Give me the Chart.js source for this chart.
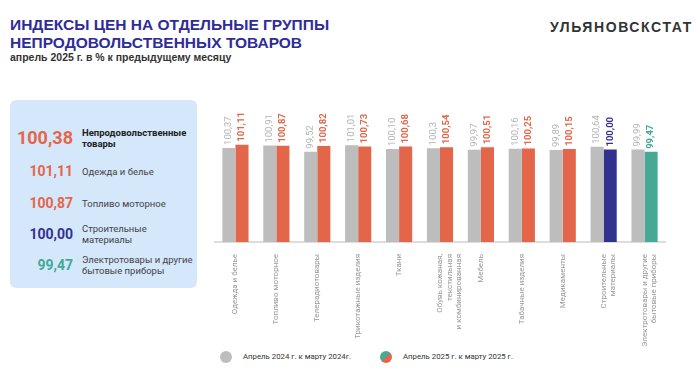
<!DOCTYPE html>
<html><head><meta charset="utf-8">
<script src="https://cdn.jsdelivr.net/npm/chart.js@4"></script>
<style>
html,body{margin:0;padding:0;background:#fff;font-family:Roboto,"Liberation Sans",Arial,sans-serif;}
#wrap{position:relative;width:700px;height:379px;overflow:hidden;}
.t1{position:absolute;left:10px;top:16px;font:bold 15.5px "Liberation Sans",Arial,sans-serif;color:#2E2C9A;line-height:18px;}
.sub{position:absolute;left:10px;top:51px;font:bold 10.5px "Liberation Sans",Arial,sans-serif;color:#333;}
.brand{position:absolute;left:550px;top:19px;font:bold 14px "Liberation Sans",Arial,sans-serif;color:#333;letter-spacing:1.6px;}
.panel{position:absolute;left:10px;top:100px;width:187px;height:188px;background:#D4E7FB;border-radius:6px;}
.num{position:absolute;right:124px;font-weight:bold;text-align:right;white-space:nowrap;}
.lbl{position:absolute;left:72px;font-size:9.5px;color:#444;line-height:11px;white-space:nowrap;}
#cw{position:absolute;left:205px;top:86px;width:475px;height:265px;}
.leg{position:absolute;top:352px;font-size:7.8px;color:#333;}
.dot{position:absolute;width:12px;height:12px;border-radius:50%;}
</style></head><body>
<div id="wrap">
<div class="t1">ИНДЕКСЫ ЦЕН НА ОТДЕЛЬНЫЕ ГРУППЫ<br>НЕПРОДОВОЛЬСТВЕННЫХ ТОВАРОВ</div>
<div class="sub">апрель 2025 г. в % к предыдущему месяцу</div>
<div class="brand">УЛЬЯНОВСКСТАТ</div>
<div class="panel" id="panel"></div>
<div id="cw"><canvas id="c" width="475" height="265"></canvas></div>
<div class="dot" style="left:220px;top:351px;background:#BDBDBD"></div>
<div class="leg" style="left:243px">Апрель 2024 г. к марту 2024г.</div>
<div class="dot" style="left:380px;top:351px;background:linear-gradient(135deg,#45A996 50%,#E4664A 50%)"></div>
<div class="leg" style="left:403px">Апрель 2025 г. к марту 2025 г.</div>
</div>
<script>
const categories = [
  "Одежда и белье","Топливо моторное","Телерадиотовары","Трикотажные изделия","Ткани",
  ["Обувь кожаная,","текстильная","и комбинированная"],"Мебель","Табачные изделия","Медикаменты",
  ["Строительные","материалы"],["Электротовары и другие","бытовые приборы"]
];
const values2024 = [100.37,100.91,99.52,101.01,100.10,100.3,99.97,100.16,99.89,100.64,99.99];
const labels2024 = ["100,37","100,91","99,52","101,01","100,10","100,3","99,97","100,16","99,89","100,64","99,99"];
const values2025 = [101.11,100.87,100.82,100.73,100.68,100.54,100.51,100.25,100.15,100.00,99.47];
const labels2025 = ["101,11","100,87","100,82","100,73","100,68","100,54","100,51","100,25","100,15","100,00","99,47"];
const colors2025 = ["#E4664A","#E4664A","#E4664A","#E4664A","#E4664A","#E4664A","#E4664A","#E4664A","#E4664A","#33318F","#45A996"];

const panelValues = ["100,38","101,11","100,87","100,00","99,47"];
const panelLabels = [["Непродовольственные","товары"],["Одежда и белье"],["Топливо моторное"],["Строительные","материалы"],["Электротовары и другие","бытовые приборы"]];
const panelColors = ["#E4664A","#E4664A","#E4664A","#33318F","#45A996"];

const panel = document.getElementById('panel');
const rowY = [38,71,103,134,165];
panelValues.forEach((v,i)=>{
  const big = i===0;
  const fs = big?18:14;
  const n = document.createElement('div');
  n.className='num';
  n.style.cssText += `top:${rowY[i]-fs*0.6}px;font-size:${fs}px;color:${panelColors[i]};`;
  n.textContent=v;
  panel.appendChild(n);
  const l = document.createElement('div');
  l.className='lbl';
  const lines = panelLabels[i].length;
  l.style.top = (rowY[i]-lines*5.5)+'px';
  if(big){l.style.fontWeight='bold';l.style.color='#222';}
  l.innerHTML = panelLabels[i].join('<br>');
  panel.appendChild(l);
});

const valueLabels = {
  id:'valueLabels',
  afterDatasetsDraw(chart){
    const ctx=chart.ctx;
    chart.data.datasets.forEach((ds,di)=>{
      const meta=chart.getDatasetMeta(di);
      meta.data.forEach((bar,i)=>{
        ctx.save();
        ctx.translate(bar.x, bar.y-3);
        ctx.rotate(-Math.PI/2);
        ctx.textAlign='left';ctx.textBaseline='middle';
        if(di===0){ctx.font='9.5px Roboto, "Liberation Sans", Arial';ctx.fillStyle='#B5B5B5';ctx.fillText(labels2024[i],0,0);}
        else{ctx.font='bold 9.5px Roboto, "Liberation Sans", Arial';ctx.fillStyle=colors2025[i];ctx.fillText(labels2025[i],0,0);}
        ctx.restore();
      });
    });
  }
};

new Chart(document.getElementById('c'),{
  type:'bar',
  data:{labels:categories,datasets:[
    {label:'Апрель 2024 г. к марту 2024г.',data:values2024,backgroundColor:'#BDBDBD',categoryPercentage:0.64,barPercentage:1},
    {label:'Апрель 2025 г. к марту 2025 г.',data:values2025,backgroundColor:colors2025,categoryPercentage:0.64,barPercentage:1}
  ]},
  options:{
    responsive:false,animation:false,
    layout:{padding:{left:10,right:15,top:0,bottom:0}},
    plugins:{legend:{display:false},tooltip:{enabled:false}},
    scales:{
      x:{grid:{display:false},border:{display:true,color:'#DDDDDD',width:2},
         ticks:{color:'#999999',font:{size:8,family:'Roboto'},minRotation:90,maxRotation:90,autoSkip:false,padding:4}},
      y:{display:false,min:78.63,max:114.7}
    }
  },
  plugins:[valueLabels]
});
</script>
</body></html>
